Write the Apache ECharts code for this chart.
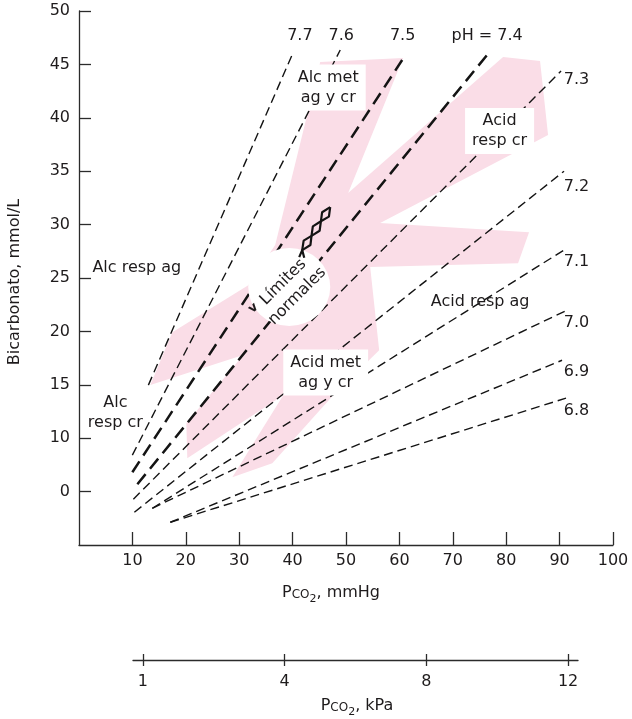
<!DOCTYPE html>
<html><head><meta charset="utf-8">
<script src="https://cdn.jsdelivr.net/npm/echarts@6/dist/echarts.min.js"></script>
<style>html,body{margin:0;padding:0;background:#fff}#c{width:632px;height:719px}</style>
</head><body><div id="c"></div>
<script>
// ---- data ----
const xTickValues = [10, 20, 30, 40, 50, 60, 70, 80, 90, 100];
const xTickLabels = ['10', '20', '30', '40', '50', '60', '70', '80', '90', '100'];
const yTickValues = [5, 10, 15, 20, 25, 30, 35, 40, 45, 50];
const yTickLabels = ['0', '10', '15', '20', '25', '30', '35', '40', '45', '50'];
const kpaTickValues = [0, 1, 2, 3];
const kpaTickLabels = ['1', '4', '8', '12'];

const phNames = ['7.7', '7.6', '7.5', '7.4', '7.3', '7.2', '7.1', '7.0', '6.9', '6.8'];
const phLines = [
  [[12.99, 14.97], [40.12, 46.14]],
  [[9.99, 8.41], [48.92, 46.35]],
  [[9.99, 6.81], [60.52, 45.41]],
  [[10.93, 5.69], [76.42, 45.88]],
  [[10.18, 4.29], [90.27, 44.38]],
  [[10.37, 3.07], [90.83, 35.0]],
  [[13.73, 3.44], [91.4, 27.8]],
  [[13.73, 3.44], [91.77, 22.08]],
  [[17.1, 2.13], [90.46, 17.3]],
  [[17.1, 2.13], [91.2, 13.75]]
];
const thickPh = ['7.5', '7.4'];

const pinkRegion = [
  [45.17, 45.22], [60.70, 45.60], [50.41, 32.95], [79.42, 45.69], [86.34, 45.32],
  [87.84, 38.38], [81.10, 36.60], [56.40, 30.14], [84.28, 29.29], [82.22, 26.39],
  [54.53, 26.02], [56.21, 18.24], [47.60, 14.03], [36.19, 7.66], [28.71, 6.35],
  [38.25, 14.03], [20.28, 8.13], [20.10, 11.41], [30.76, 17.78], [13.36, 14.97],
  [17.48, 19.93], [31.70, 24.33], [36.74, 28.08]
];
const normalCenter = [[39.37, 24.15]];
const zigzagA = [[41.24, 26.95], [41.80, 27.61], [43.34, 28.09], [43.54, 28.94], [45.06, 29.42], [45.30, 30.31], [46.80, 30.75], [47.04, 31.64]];
const zigzagB = [[42.18, 26.90], [41.80, 27.61], [42.07, 28.50], [43.54, 28.94], [43.79, 29.83], [45.30, 30.31], [45.53, 31.16], [47.04, 31.64]];

const boxedLabels = [[46.67, 42.83, 'Alc met\nag y cr'], [78.76, 38.76, 'Acid\nresp cr'], [46.2, 16.14, 'Acid met\nag y cr']];
const plainLabels = [[10.83, 25.93, 'Alc resp ag'], [6.81, 12.34, 'Alc\nresp cr'], [75.12, 22.73, 'Acid resp ag']];
const phTopLabels = [[41.36, 47.66, '7.7'], [49.10, 47.66, '7.6'], [60.61, 47.66, '7.5'], [76.42, 47.66, 'pH = 7.4']];
const phRightLabels = [[93.17, 43.54, '7.3'], [93.17, 33.54, '7.2'], [93.17, 26.52, '7.1'], [93.17, 20.77, '7.0'], [93.17, 16.21, '6.9'], [93.17, 12.56, '6.8']];
const normalLabel = [[39.56, 23.96, 'Límites\nnormales']];
const checkMark = [[32.63, 22.18, 'v']];

// ---- style ----
const FONT = 'DejaVu Sans';
const TXT = '#1e1b1c';
const AX = '#2b2b2b';
const PINK = '#fadde7';

function labelSeries(arr, labelOpt, z) {
  return {
    type: 'scatter', xAxisIndex: 0, yAxisIndex: 0, z: z, silent: true,
    symbolSize: 1, itemStyle: { color: 'rgba(0,0,0,0)', opacity: 1 },
    emphasis: { disabled: true },
    data: arr.map(d => ({ value: [d[0], d[1]], name: d[2] })),
    label: Object.assign({
      show: true, position: 'inside', formatter: p => p.name, opacity: 1,
      color: TXT, fontFamily: FONT, fontSize: 16, lineHeight: 20
    }, labelOpt)
  };
}

const series = [];
series.push({
  type: 'custom', xAxisIndex: 0, yAxisIndex: 0, z: 1, silent: true,
  data: [pinkRegion[0]],
  renderItem: (params, api) => ({
    type: 'polygon',
    shape: { points: pinkRegion.map(p => api.coord(p)) },
    style: { fill: PINK }
  })
});
phLines.forEach((pts, i) => {
  const thick = thickPh.indexOf(phNames[i]) >= 0;
  series.push({
    type: 'line', name: 'pH ' + phNames[i], xAxisIndex: 0, yAxisIndex: 0, z: 2,
    silent: true, symbol: 'none', data: pts,
    lineStyle: { color: '#141414', width: thick ? 2.5 : 1.4, type: thick ? [13, 7] : [9, 5] }
  });
});
series.push({
  type: 'scatter', xAxisIndex: 0, yAxisIndex: 0, z: 3, silent: true,
  symbol: 'circle', symbolSize: [82, 78], itemStyle: { color: '#ffffff', opacity: 1 },
  emphasis: { disabled: true },
  data: normalCenter
});
[zigzagA, zigzagB].forEach(zz => series.push({
  type: 'line', xAxisIndex: 0, yAxisIndex: 0, z: 4, silent: true, symbol: 'none',
  data: zz, lineStyle: { color: '#141414', width: 2.2, type: 'solid' }
}));
series.push(labelSeries(boxedLabels, { backgroundColor: '#ffffff', padding: [3, 7] }, 5));
series.push(labelSeries(plainLabels, {}, 5));
series.push(labelSeries(phTopLabels, {}, 5));
series.push(labelSeries(phRightLabels, {}, 5));
series.push(labelSeries(normalLabel, { rotate: 45 }, 6));
series.push(labelSeries(checkMark, { rotate: 40, fontSize: 13, fontWeight: 'bold' }, 6));

const axisText = { color: TXT, fontFamily: FONT, fontSize: 16 };

const option = {
  animation: false,
  backgroundColor: '#ffffff',
  grid: [
    { left: 79, top: 11, width: 534, height: 534 },
    { left: 133, top: 640, width: 445, height: 20 }
  ],
  xAxis: [
    {
      gridIndex: 0, type: 'value', min: 0, max: 100, interval: 10, position: 'bottom',
      axisLine: { show: true, lineStyle: { color: AX, width: 1.3 } },
      axisTick: { show: true, inside: true, length: 13, customValues: xTickValues, lineStyle: { color: AX, width: 1.3 } },
      axisLabel: Object.assign({ margin: 8, customValues: xTickValues,
        formatter: v => { const k = xTickValues.indexOf(v); return k >= 0 ? xTickLabels[k] : ''; } }, axisText),
      splitLine: { show: false }
    },
    {
      gridIndex: 1, type: 'value', min: -0.07, max: 3.07, position: 'bottom',
      axisLine: { show: true, lineStyle: { color: AX, width: 1.3 } },
      axisTick: { show: true, inside: false, length: 6, customValues: kpaTickValues, lineStyle: { color: AX, width: 1.3 } },
      axisLabel: Object.assign({ margin: 14, customValues: kpaTickValues,
        formatter: v => { const k = kpaTickValues.indexOf(Math.round(v * 100) / 100); return k >= 0 ? kpaTickLabels[k] : ''; } }, axisText),
      splitLine: { show: false }
    },
    {
      gridIndex: 1, type: 'value', min: -0.07, max: 3.07, position: 'bottom',
      axisLine: { show: false },
      axisTick: { show: true, inside: true, length: 6, customValues: kpaTickValues, lineStyle: { color: AX, width: 1.3 } },
      axisLabel: { show: false },
      splitLine: { show: false }
    }
  ],
  yAxis: [
    {
      gridIndex: 0, type: 'value', min: 0, max: 50, interval: 5,
      axisLine: { show: true, lineStyle: { color: AX, width: 1.3 } },
      axisTick: { show: true, inside: true, length: 12, customValues: yTickValues, lineStyle: { color: AX, width: 1.3 } },
      axisLabel: Object.assign({ margin: 9, customValues: yTickValues,
        formatter: v => { const k = yTickValues.indexOf(v); return k >= 0 ? yTickLabels[k] : ''; } }, axisText),
      splitLine: { show: false }
    },
    { gridIndex: 1, type: 'value', show: false, min: 0, max: 1 }
  ],
  graphic: [
    {
      type: 'text', x: 15, y: 282, rotation: Math.PI / 2, silent: true,
      style: { text: 'Bicarbonato, mmol/L', fill: TXT, font: '16px "DejaVu Sans"',
        textAlign: 'center', textVerticalAlign: 'middle', align: 'center', verticalAlign: 'middle' }
    },
    {
      type: 'text', x: 331, y: 593, silent: true,
      style: {
        text: '{p|P}{c|CO}{s|2}{p|, mmHg}', textAlign: 'center', textVerticalAlign: 'middle', align: 'center', verticalAlign: 'middle',
        rich: {
          p: { fill: TXT, fontSize: 16, fontFamily: FONT, lineHeight: 24, verticalAlign: 'middle' },
          c: { fill: TXT, fontSize: 12, fontFamily: FONT, lineHeight: 24, verticalAlign: 'middle', padding: [3, 0, 0, 0] },
          s: { fill: TXT, fontSize: 11, fontFamily: FONT, lineHeight: 14, verticalAlign: 'bottom' }
        }
      }
    },
    {
      type: 'text', x: 357, y: 706, silent: true,
      style: {
        text: '{p|P}{c|CO}{s|2}{p|, kPa}', textAlign: 'center', textVerticalAlign: 'middle', align: 'center', verticalAlign: 'middle',
        rich: {
          p: { fill: TXT, fontSize: 16, fontFamily: FONT, lineHeight: 24, verticalAlign: 'middle' },
          c: { fill: TXT, fontSize: 12, fontFamily: FONT, lineHeight: 24, verticalAlign: 'middle', padding: [3, 0, 0, 0] },
          s: { fill: TXT, fontSize: 11, fontFamily: FONT, lineHeight: 14, verticalAlign: 'bottom' }
        }
      }
    }
  ],
  series: series
};
const chart = echarts.init(document.getElementById('c'), null, { renderer: 'canvas' });
chart.setOption(option);
</script></body></html>
